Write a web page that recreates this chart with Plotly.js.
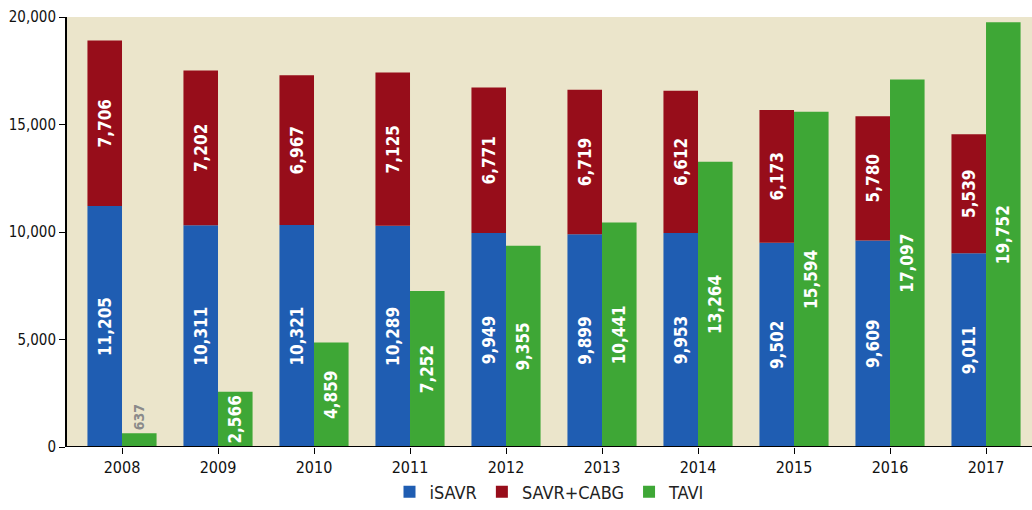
<!DOCTYPE html>
<html><head><meta charset="utf-8">
<script src="https://cdn.plot.ly/plotly-3.0.1.min.js"></script>
<style>body{margin:0;background:#fff}#c{width:1032px;height:510px}
text{font-stretch:condensed !important;}</style>
</head><body><div id="c"></div>
<script>
const years = ['2008','2009','2010','2011','2012','2013','2014','2015','2016','2017'];
const isavr = [11205,10311,10321,10289,9949,9899,9953,9502,9609,9011];
const savrCabg = [7706,7202,6967,7125,6771,6719,6612,6173,5780,5539];
const tavi = [637,2566,4859,7252,9355,10441,13264,15594,17097,19752];
const yTicks = [0,5000,10000,15000,20000];
const yTickText = ['0','5,000','10,000','15,000','20,000'];

const FONT = '"DejaVu Sans Condensed","DejaVu Sans",sans-serif';
const fmt = v => v.toLocaleString('en-US');
const lblFont = {family: FONT, size: 17, color: '#ffffff', weight: 'bold'};

const traces = [
  {type:'bar', name:'iSAVR', x:years, y:isavr, offsetgroup:'s',
   marker:{color:'#1f5db2'}, text:isavr.map(fmt), textangle:-90,
   textposition:'inside', insidetextanchor:'middle', textfont:lblFont, hoverinfo:'none'},
  {type:'bar', name:'SAVR+CABG', x:years, y:savrCabg, base:isavr, offsetgroup:'s',
   marker:{color:'#970d1a'}, text:savrCabg.map(fmt), textangle:-90,
   textposition:'inside', insidetextanchor:'middle', textfont:lblFont, hoverinfo:'none'},
  {type:'bar', name:'TAVI', x:years, y:tavi, offsetgroup:'t',
   marker:{color:'#3ea736'}, text:tavi.map(fmt), textangle:-90,
   textposition:tavi.map((v,i)=> i===0 ? 'outside' : 'inside'),
   insidetextanchor:'middle', textfont:lblFont,
   outsidetextfont:{family: FONT, size: 14, color: '#8a8a8a', weight:'bold'},
   cliponaxis:false, hoverinfo:'none'}
];

const layout = {
  width:1032, height:510,
  margin:{l:67, r:0, t:17, b:63, autoexpand:false},
  paper_bgcolor:'#ffffff', plot_bgcolor:'#ebe5cb',
  barmode:'group', bargap:0.28, bargroupgap:0,
  showlegend:true,
  legend:{orientation:'h', x:0.5, xanchor:'center', y:-0.062, yanchor:'top',
          font:{family:FONT, size:18, color:'#222'}, itemwidth:30, traceorder:'normal'},
  xaxis:{type:'category', range:[-0.573, 9.479], showgrid:false, zeroline:false,
         showline:false, ticks:'outside', ticklen:6, tickcolor:'#000', tickwidth:1,
         tickfont:{family:FONT, size:16, color:'#111'}},
  yaxis:{range:[0,20000], tickvals:yTicks, ticktext:yTickText, showgrid:false,
         zeroline:false, showline:true, linecolor:'#000', linewidth:2,
         ticks:'outside', ticklen:6, tickcolor:'#000',
         tickfont:{family:FONT, size:15, color:'#111'}},
  shapes:[{type:'line', xref:'paper', yref:'y', x0:0, x1:1, y0:0, y1:0,
           line:{color:'#000', width:2}}],
  uniformtext:{mode:false}
};
Plotly.newPlot('c', traces, layout, {displayModeBar:false, staticPlot:true});
</script></body></html>
